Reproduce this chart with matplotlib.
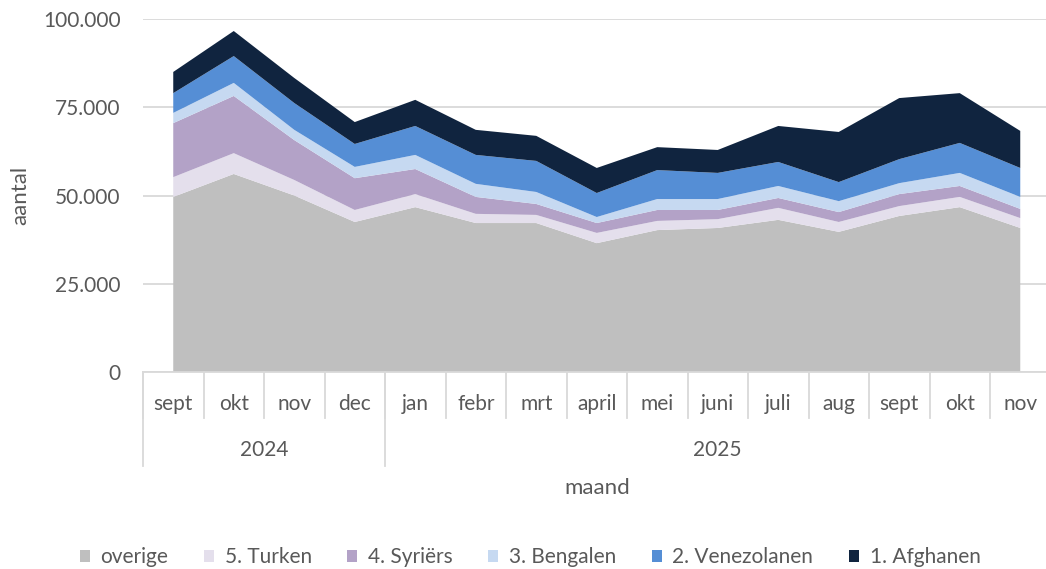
import matplotlib
matplotlib.use('Agg')
import matplotlib.pyplot as plt
from matplotlib.patches import Patch
from matplotlib.ticker import FuncFormatter
import matplotlib.transforms as mtransforms

plt.rcParams['font.family'] = ['Lato', 'DejaVu Sans']

months = ['sept', 'okt', 'nov', 'dec', 'jan', 'febr', 'mrt', 'april',
          'mei', 'juni', 'juli', 'aug', 'sept', 'okt', 'nov']
years = ['2024', '2025']
months_per_year = [4, 11]

# values per group (aantal), stacked from the bottom up
overige = [49600, 56100, 50000, 42500, 46700, 42200, 42200, 36500,
           40200, 40800, 43100, 39700, 44200, 46700, 40800]
turken = [5600, 5900, 4400, 3400, 3700, 2600, 2300, 2900,
          2600, 2500, 3400, 2800, 2800, 2900, 2800]
syriers = [15300, 16200, 11300, 9000, 7100, 4800, 3100, 2800,
           3100, 2600, 2800, 2800, 3400, 3100, 2600]
bengalen = [2900, 3700, 2900, 3200, 4000, 3700, 3400, 1700,
            3100, 3100, 3400, 3100, 3100, 3700, 3400]
venezolanen = [5600, 7600, 7600, 6500, 8200, 8200, 8800, 6800,
               8200, 7400, 6800, 5400, 6800, 8500, 8200]
afghanen = [6000, 7100, 7100, 6200, 7400, 7100, 7100, 7100,
            6500, 6500, 10200, 14200, 17300, 14100, 10500]

series = [overige, turken, syriers, bengalen, venezolanen, afghanen]
labels = ['overige', '5. Turken', '4. Syriërs', '3. Bengalen',
          '2. Venezolanen', '1. Afghanen']
colors = ['#BFBFBF', '#E4DFEC', '#B3A2C7', '#C6D9F1', '#558ED5', '#10243F']

text_color = '#595959'
line_color = '#D9D9D9'
fs = 15

fig = plt.figure(figsize=(10.46, 5.69), dpi=100)
ax = fig.add_axes([143 / 1046, 197 / 569, 907.5 / 1046, 353 / 569])

x = list(range(len(months)))
ax.stackplot(x, *series, colors=colors, labels=labels, lw=0)

ax.set_xlim(-0.5, len(months) - 0.5)
ax.set_ylim(0, 100000)
ax.set_yticks([0, 25000, 50000, 75000, 100000])
ax.yaxis.set_major_formatter(FuncFormatter(lambda v, p: f'{int(v):,}'.replace(',', '.')))
ax.tick_params(axis='y', length=0, pad=16, labelsize=fs, labelcolor=text_color)
ax.set_xticks([])
ax.grid(axis='y', color=line_color, lw=1.3)
ax.set_axisbelow(True)
for s in ['top', 'right', 'left']:
    ax.spines[s].set_visible(False)
ax.spines['bottom'].set_color(line_color)
ax.spines['bottom'].set_linewidth(1.3)

# two-level category axis
trans = mtransforms.blended_transform_factory(ax.transData, ax.transAxes)
for i, m in enumerate(months):
    ax.text(i, -32 / 353, m, transform=trans, ha='center', va='center',
            fontsize=fs, color=text_color)
for i in range(len(months) + 1):
    ax.plot([i - 0.5, i - 0.5], [0, -46 / 353], transform=trans,
            color=line_color, lw=1.3, clip_on=False)
start = 0
for yr, n in zip(years, months_per_year):
    ax.plot([start - 0.5, start - 0.5], [0, -94 / 353], transform=trans,
            color=line_color, lw=1.3, clip_on=False)
    ax.text(start + (n - 1) / 2, -78 / 353, yr, transform=trans, ha='center',
            va='center', fontsize=fs, color=text_color)
    start += n

fig.text(20 / 1046, 1 - 195 / 569, 'aantal', rotation=90, ha='center',
         va='center', fontsize=fs + 1, color=text_color)
fig.text(597 / 1046, 1 - 488 / 569, 'maand', ha='center', va='center',
         fontsize=fs + 1, color=text_color)

handles = [Patch(facecolor=c, edgecolor='none') for c in colors]
fig.legend(handles, labels, loc='center', bbox_to_anchor=(530 / 1046, 1 - 557 / 569),
           ncol=6, frameon=False, fontsize=fs, labelcolor=text_color,
           handlelength=0.5, handleheight=0.5, handletextpad=0.5,
           columnspacing=1.7)

fig.savefig('out.png', dpi=100)
